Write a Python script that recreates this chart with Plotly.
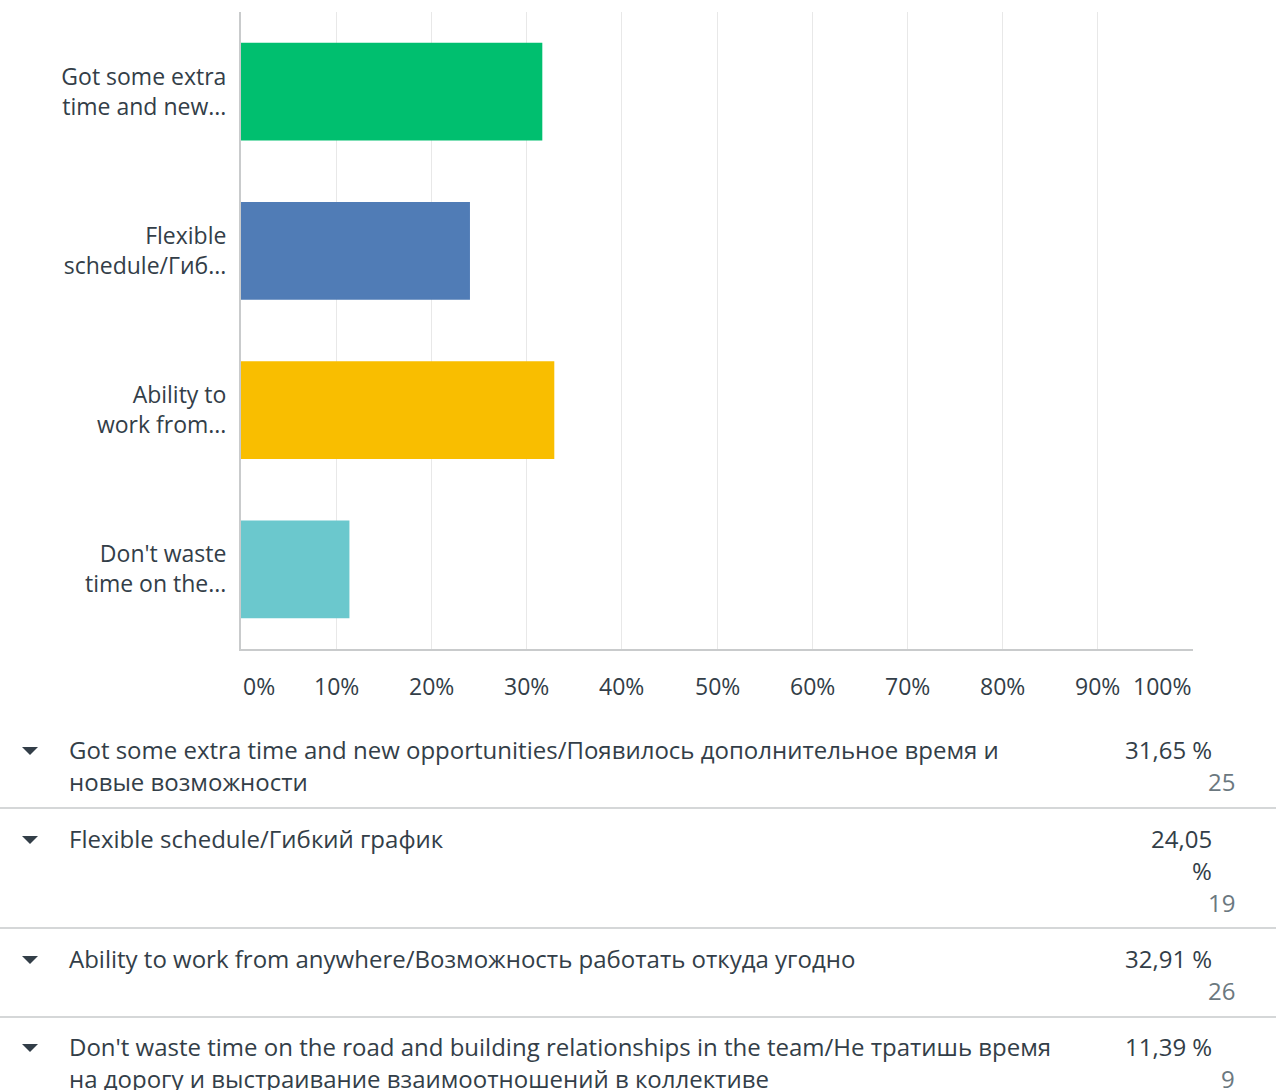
import plotly.graph_objects as go

# Survey answers and results
answers = [
    "Got some extra time and new opportunities/Появилось дополнительное время и новые возможности",
    "Flexible schedule/Гибкий график",
    "Ability to work from anywhere/Возможность работать откуда угодно",
    "Don't waste time on the road and building relationships in the team/Не тратишь время на дорогу и выстраивание взаимоотношений в коллективе",
]
axis_labels = [
    "Got some extra<br>time and new...",
    "Flexible<br>schedule/Гиб...",
    "Ability to<br>work from...",
    "Don't waste<br>time on the...",
]
table_labels = [
    "Got some extra time and new opportunities/Появилось дополнительное время и<br>новые возможности",
    "Flexible schedule/Гибкий график",
    "Ability to work from anywhere/Возможность работать откуда угодно",
    "Don't waste time on the road and building relationships in the team/Не тратишь время<br>на дорогу и выстраивание взаимоотношений в коллективе",
]
percents = [31.65, 24.05, 32.91, 11.39]
counts = [25, 19, 26, 9]
bar_colors = ["#00BF6F", "#507CB6", "#F9BE00", "#6BC8CD"]
x_ticks = [0, 10, 20, 30, 40, 50, 60, 70, 80, 90, 100]
x_tick_text = [f"{t}%" for t in x_ticks]
pct_wrapped = [False, True, False, False]

W, H = 1280, 1090
ML, MR, MT, MB = 241, 87, 12, 441
PW, PH = W - ML - MR, H - MT - MB

FONT = "Open Sans"
TEXT = "#333e48"
MUTED = "#6b787f"
AXIS_SIZE = 23
TABLE_SIZE = 24


def px(x):
    return (x - ML) / PW


def py(y):
    return (H - MB - y) / PH


fig = go.Figure(
    go.Bar(
        x=percents,
        y=answers,
        orientation="h",
        marker=dict(color=bar_colors, line=dict(width=0)),
        hovertemplate="%{y}<br>%{x:.2f}%<extra></extra>",
    )
)

annotations = []
shapes = []

# x-axis tick labels: end labels are kept inside the plot width
for t, label in zip(x_ticks, x_tick_text):
    anchor = "left" if t == x_ticks[0] else ("right" if t == x_ticks[-1] else "center")
    annotations.append(dict(
        x=t, y=py(686), xref="x", yref="paper", text=label,
        showarrow=False, xanchor=anchor, yanchor="middle",
        font=dict(family=FONT, size=AXIS_SIZE, color=TEXT),
    ))

row_tops = [749, 838, 958, 1046]
line_gap = 32
for i, label in enumerate(table_labels):
    y0 = row_tops[i]
    # expand arrow
    tx, ty = 30, y0 + 2
    shapes.append(dict(
        type="path", xref="paper", yref="paper",
        path=f"M {px(tx-8)} {py(ty-4)} L {px(tx+8)} {py(ty-4)} L {px(tx)} {py(ty+4)} Z",
        fillcolor="#333e48", line=dict(width=0),
    ))
    for j, line in enumerate(label.split("<br>")):
        annotations.append(dict(
            x=px(67), y=py(y0 + j * line_gap), xref="paper", yref="paper",
            text=line, showarrow=False, xanchor="left", yanchor="middle",
            font=dict(family=FONT, size=TABLE_SIZE, color=TEXT),
        ))
    pct = f"{percents[i]:.2f}".replace(".", ",")
    if pct_wrapped[i]:
        pct_lines = [pct, "%"]
    else:
        pct_lines = [pct + " %"]
    for j, line in enumerate(pct_lines):
        annotations.append(dict(
            x=px(1214), y=py(y0 + j * line_gap), xref="paper", yref="paper",
            text=line, showarrow=False, xanchor="right", yanchor="middle",
            font=dict(family=FONT, size=TABLE_SIZE, color=TEXT),
        ))
    annotations.append(dict(
        x=px(1237), y=py(y0 + len(pct_lines) * line_gap), xref="paper", yref="paper",
        text=str(counts[i]), showarrow=False, xanchor="right", yanchor="middle",
        font=dict(family=FONT, size=TABLE_SIZE, color=MUTED),
    ))

for sep in [808, 928, 1017]:
    shapes.append(dict(
        type="line", xref="paper", yref="paper",
        x0=px(0), x1=px(1276), y0=py(sep), y1=py(sep),
        line=dict(color="#d5d7d8", width=2),
    ))

fig.update_layout(
    width=W, height=H,
    margin=dict(l=ML, r=MR, t=MT, b=MB, pad=0),
    paper_bgcolor="white", plot_bgcolor="white",
    bargap=0.385,
    showlegend=False,
    font=dict(family=FONT, color=TEXT),
    xaxis=dict(
        range=[0, 100], tickvals=x_ticks, showticklabels=False,
        showgrid=True, gridcolor="#e8e8e8", gridwidth=1,
        showline=True, linecolor="#c9cbcc", linewidth=2,
        zeroline=False, ticks="",
        fixedrange=True,
    ),
    yaxis=dict(
        categoryorder="array", categoryarray=answers,
        tickvals=answers, ticktext=axis_labels,
        autorange="reversed",
        showgrid=False, showline=True, linecolor="#c9cbcc", linewidth=2,
        ticks="", ticklabelstandoff=8,
        tickfont=dict(family=FONT, size=AXIS_SIZE, color=TEXT),
        fixedrange=True,
    ),
    annotations=annotations,
    shapes=shapes,
)

fig.write_html("out.html")
